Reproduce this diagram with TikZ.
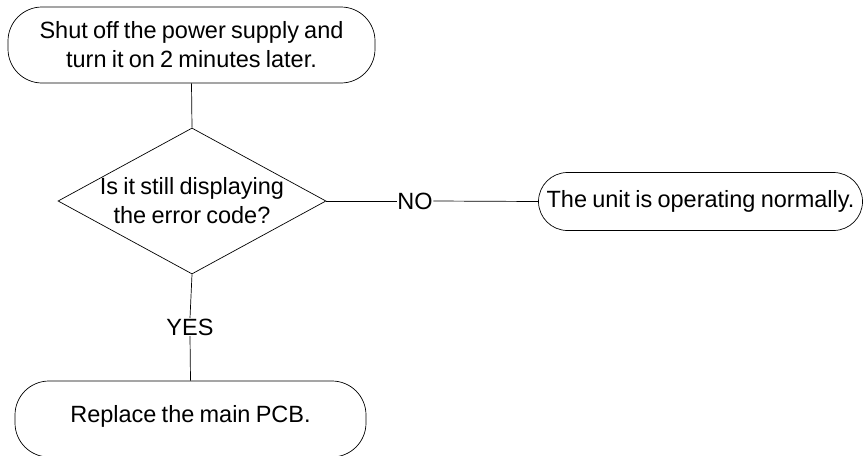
\documentclass[tikz,border=0pt]{standalone}
\usepackage{fontspec}
\setmainfont[WordSpace=0.8]{Liberation Sans}
\usetikzlibrary{shapes.geometric}
\begin{document}
\begin{tikzpicture}[x=1pt,y=-1pt,
  every node/.style={font=\fontsize{23.5}{29}\selectfont, align=center, inner sep=0pt},
  term/.style={draw, line width=0.7pt, rounded corners=34pt, rectangle},
  decide/.style={draw, line width=0.7pt, diamond, aspect=1.84},
  link/.style={line width=0.7pt},
  lbl/.style={fill=white, inner sep=0.5pt}]
\useasboundingbox (0,0) rectangle (864,455);
\node[term, minimum width=367pt, minimum height=76pt] (start) at (191.5,45) {};
\node (starttxt) at (191.5,45) {Shut off the power supply and\\turn it on 2 minutes later.};
\node[decide, minimum width=268pt, minimum height=146pt] (q) at (192,201) {};
\node (qtxt) at (192,201) {Is it still displaying\\the error code?};
\node[term, minimum width=324pt, minimum height=58pt, rounded corners=29pt] (ok) at (700.5,201.5) {};
\node (oktxt) at (700.5,201.5) {The unit is operating normally.};
\node[term, minimum width=351pt, minimum height=76pt] (pcb) at (190.5,419) {};
\node (pcbtxt) at (190.5,416) {Replace the main PCB.};
\node[lbl] (no) at (415,201) {NO};
\node[lbl] (yes) at (190,327) {YES};
\draw[link] (start.south) -- (q.north);
\draw[link] (q.east) -- (no.west);
\draw[link] (no.east) -- (ok.west);
\draw[link] (q.south) -- (yes.north);
\draw[link] (yes.south) -- (pcb.north);
\end{tikzpicture}
\end{document}
